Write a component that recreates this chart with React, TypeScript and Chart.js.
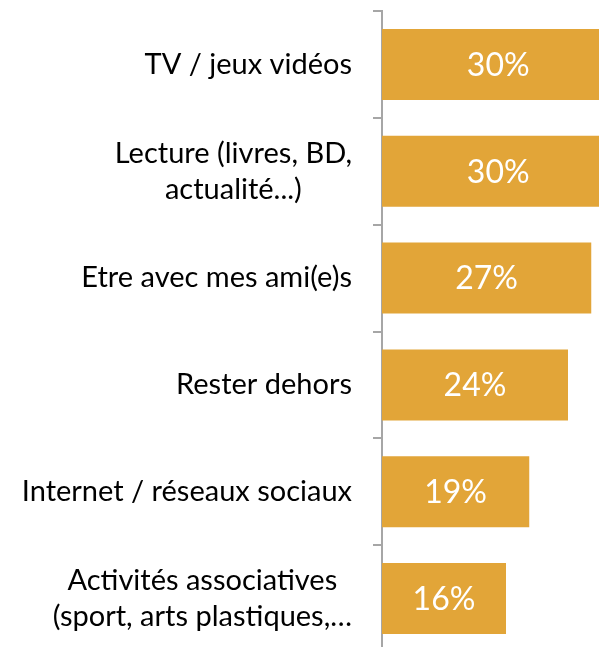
import React, { useEffect, useRef } from "react";
import { Chart, registerables } from "chart.js";

Chart.register(...registerables);

const categories: string[][] = [
  ["TV / jeux vidéos"],
  ["Lecture (livres, BD,", "actualité...)"],
  ["Etre avec mes ami(e)s"],
  ["Rester dehors"],
  ["Internet / réseaux sociaux"],
  ["Activités associatives", "(sport, arts plastiques,…"],
];
const values: number[] = [30, 30, 27, 24, 19, 16];
const xMax = 28;

const BAR_COLOR = "#E2A538";
const AXIS_COLOR = "#A6A6A6";
const FONT = "Lato, 'Noto Sans', sans-serif";

const categoryLabelsPlugin = {
  id: "categoryLabels",
  afterDraw(chart: any) {
    const ctx = chart.ctx;
    const scale = chart.scales.y;
    const rightEdge = scale.right - 9 - 21;
    const lh = 36;
    ctx.save();
    ctx.font = `29px ${FONT}`;
    ctx.fillStyle = "#000000";
    ctx.textAlign = "center";
    ctx.textBaseline = "middle";
    categories.forEach((lines, i) => {
      const cy = scale.getPixelForTick(i);
      const maxW = Math.max(...lines.map((l) => ctx.measureText(l).width));
      const cx = rightEdge - maxW / 2;
      const y0 = cy - ((lines.length - 1) * lh) / 2;
      lines.forEach((l, j) => ctx.fillText(l, cx, y0 + j * lh));
    });
    ctx.restore();
  },
};

const valueLabelsPlugin = {
  id: "valueLabels",
  afterDatasetsDraw(chart: any) {
    const ctx = chart.ctx;
    const meta = chart.getDatasetMeta(0);
    ctx.save();
    ctx.font = `32px ${FONT}`;
    ctx.fillStyle = "#FFFFFF";
    ctx.textAlign = "center";
    ctx.textBaseline = "middle";
    meta.data.forEach((el: any, i: number) => {
      const cx = (el.x + el.base) / 2;
      ctx.fillText(`${Math.round(values[i])}%`, cx, el.y + 1);
    });
    ctx.restore();
  },
};

export default function App() {
  const canvasRef = useRef<HTMLCanvasElement | null>(null);

  useEffect(() => {
    const canvas = canvasRef.current;
    if (!canvas) return;
    const chart = new Chart(canvas, {
      type: "bar",
      data: {
        labels: categories.map((c) => c.join(" ")),
        datasets: [
          {
            data: values,
            backgroundColor: BAR_COLOR,
            borderWidth: 0,
            barPercentage: 1,
            categoryPercentage: 0.665,
          },
        ],
      },
      options: {
        indexAxis: "y",
        animation: false,
        responsive: true,
        maintainAspectRatio: false,
        layout: { padding: { top: 11, bottom: 8, left: 0, right: 0 } },
        plugins: {
          legend: { display: false },
          tooltip: { enabled: false },
        },
        scales: {
          x: {
            display: false,
            min: 0,
            max: xMax,
          },
          y: {
            afterFit(scale: any) {
              scale.width = 382;
            },
            border: { display: true, color: AXIS_COLOR, width: 2 },
            grid: {
              display: true,
              drawOnChartArea: false,
              drawTicks: true,
              tickLength: 9,
              color: AXIS_COLOR,
              lineWidth: 2,
              offset: true,
            },
            ticks: { display: false },
          },
        },
      },
      plugins: [categoryLabelsPlugin, valueLabelsPlugin],
    });
    return () => chart.destroy();
  }, []);

  return (
    <div
      style={{
        position: "fixed",
        left: 0,
        top: 0,
        width: 599,
        height: 647,
        overflow: "hidden",
        background: "#FFFFFF",
      }}
    >
      <div style={{ position: "relative", width: 599, height: 660 }}>
        <canvas ref={canvasRef} />
      </div>
    </div>
  );
}
